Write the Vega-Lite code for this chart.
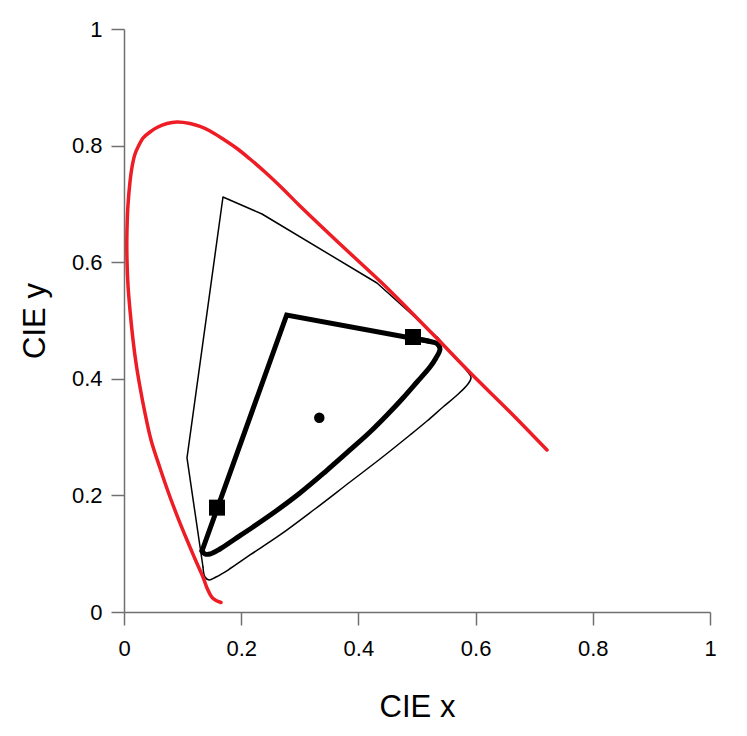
{
  "$schema": "https://vega.github.io/schema/vega-lite/v6.json",
  "width": 586,
  "height": 583,
  "autosize": {"type": "none"},
  "padding": {"left": 124, "top": 29, "right": 37, "bottom": 124},
  "config": {
    "view": {"stroke": null},
    "font": "Liberation Sans",
    "axis": {
      "grid": false,
      "domainColor": "#707070",
      "tickColor": "#707070",
      "domainWidth": 1.5,
      "tickWidth": 1.5,
      "tickSize": 13,
      "labelFont": "Liberation Sans",
      "labelFontSize": 22,
      "labelColor": "#000000",
      "labelFlush": false,
      "labelOverlap": false,
      "titleFont": "Liberation Sans",
      "titleFontSize": 31,
      "titleFontWeight": "normal",
      "titleColor": "#000000"
    }
  },
  "datasets": {
    "locus": [
      {"i": 0, "x": 0.1655, "y": 0.0163},
      {"i": 1, "x": 0.1570, "y": 0.0197},
      {"i": 2, "x": 0.1502, "y": 0.0249},
      {"i": 3, "x": 0.1416, "y": 0.0412},
      {"i": 4, "x": 0.1348, "y": 0.0600},
      {"i": 5, "x": 0.1212, "y": 0.0909},
      {"i": 6, "x": 0.1075, "y": 0.1235},
      {"i": 7, "x": 0.0922, "y": 0.1612},
      {"i": 8, "x": 0.0785, "y": 0.1973},
      {"i": 9, "x": 0.0614, "y": 0.2470},
      {"i": 10, "x": 0.0461, "y": 0.2950},
      {"i": 11, "x": 0.0358, "y": 0.3413},
      {"i": 12, "x": 0.0273, "y": 0.3859},
      {"i": 13, "x": 0.0205, "y": 0.4271},
      {"i": 14, "x": 0.0154, "y": 0.4666},
      {"i": 15, "x": 0.0102, "y": 0.5180},
      {"i": 16, "x": 0.0068, "y": 0.5609},
      {"i": 17, "x": 0.0051, "y": 0.6038},
      {"i": 18, "x": 0.0048, "y": 0.6381},
      {"i": 19, "x": 0.0056, "y": 0.6724},
      {"i": 20, "x": 0.0068, "y": 0.6981},
      {"i": 21, "x": 0.0102, "y": 0.7376},
      {"i": 22, "x": 0.0137, "y": 0.7633},
      {"i": 23, "x": 0.0188, "y": 0.7856},
      {"i": 24, "x": 0.0256, "y": 0.8010},
      {"i": 25, "x": 0.0324, "y": 0.8130},
      {"i": 26, "x": 0.0444, "y": 0.8233},
      {"i": 27, "x": 0.0563, "y": 0.8310},
      {"i": 28, "x": 0.0734, "y": 0.8379},
      {"i": 29, "x": 0.0904, "y": 0.8405},
      {"i": 30, "x": 0.1126, "y": 0.8379},
      {"i": 31, "x": 0.1297, "y": 0.8328},
      {"i": 32, "x": 0.1468, "y": 0.8250},
      {"i": 33, "x": 0.1689, "y": 0.8113},
      {"i": 34, "x": 0.1928, "y": 0.7950},
      {"i": 35, "x": 0.2150, "y": 0.7770},
      {"i": 36, "x": 0.2406, "y": 0.7547},
      {"i": 37, "x": 0.2713, "y": 0.7256},
      {"i": 38, "x": 0.3003, "y": 0.6964},
      {"i": 39, "x": 0.3686, "y": 0.6312},
      {"i": 40, "x": 0.4420, "y": 0.5626},
      {"i": 41, "x": 0.4881, "y": 0.5163},
      {"i": 42, "x": 0.5392, "y": 0.4640},
      {"i": 43, "x": 0.5904, "y": 0.4108},
      {"i": 44, "x": 0.6587, "y": 0.3431},
      {"i": 45, "x": 0.7218, "y": 0.2779}
    ],
    "thinLines": [
      {"i": 0, "x": 0.1348, "y": 0.0772},
      {"i": 1, "x": 0.1075, "y": 0.2642},
      {"i": 2, "x": 0.1689, "y": 0.7118},
      {"i": 3, "x": 0.2355, "y": 0.6827},
      {"i": 4, "x": 0.4317, "y": 0.5643},
      {"i": 5, "x": 0.5341, "y": 0.4717},
      {"i": 6, "x": 0.5648, "y": 0.4367}
    ],
    "thinCurve": [
      {"i": 0, "x": 0.5341, "y": 0.4717},
      {"i": 1, "x": 0.5648, "y": 0.4367},
      {"i": 2, "x": 0.5853, "y": 0.4134},
      {"i": 3, "x": 0.5922, "y": 0.4022},
      {"i": 4, "x": 0.5870, "y": 0.3911},
      {"i": 5, "x": 0.5666, "y": 0.3705},
      {"i": 6, "x": 0.5444, "y": 0.3516},
      {"i": 7, "x": 0.5171, "y": 0.3276},
      {"i": 8, "x": 0.4881, "y": 0.3036},
      {"i": 9, "x": 0.4369, "y": 0.2624},
      {"i": 10, "x": 0.3857, "y": 0.2230},
      {"i": 11, "x": 0.3259, "y": 0.1767},
      {"i": 12, "x": 0.2662, "y": 0.1321},
      {"i": 13, "x": 0.2150, "y": 0.0978},
      {"i": 14, "x": 0.1775, "y": 0.0720},
      {"i": 15, "x": 0.1570, "y": 0.0600},
      {"i": 16, "x": 0.1451, "y": 0.0549},
      {"i": 17, "x": 0.1382, "y": 0.0600},
      {"i": 18, "x": 0.1348, "y": 0.0772}
    ],
    "thickLines": [
      {"i": 0, "x": 0.1331, "y": 0.1046},
      {"i": 1, "x": 0.2776, "y": 0.5094},
      {"i": 2, "x": 0.5222, "y": 0.4640}
    ],
    "thickCurve": [
      {"i": 0, "x": 0.4932, "y": 0.4694},
      {"i": 1, "x": 0.5222, "y": 0.4640},
      {"i": 2, "x": 0.5341, "y": 0.4605},
      {"i": 3, "x": 0.5392, "y": 0.4511},
      {"i": 4, "x": 0.5324, "y": 0.4357},
      {"i": 5, "x": 0.5222, "y": 0.4202},
      {"i": 6, "x": 0.5000, "y": 0.3945},
      {"i": 7, "x": 0.4761, "y": 0.3671},
      {"i": 8, "x": 0.4505, "y": 0.3396},
      {"i": 9, "x": 0.4198, "y": 0.3087},
      {"i": 10, "x": 0.3857, "y": 0.2779},
      {"i": 11, "x": 0.3430, "y": 0.2401},
      {"i": 12, "x": 0.3003, "y": 0.2041},
      {"i": 13, "x": 0.2594, "y": 0.1732},
      {"i": 14, "x": 0.2201, "y": 0.1458},
      {"i": 15, "x": 0.1894, "y": 0.1252},
      {"i": 16, "x": 0.1638, "y": 0.1081},
      {"i": 17, "x": 0.1468, "y": 0.0995},
      {"i": 18, "x": 0.1382, "y": 0.0995},
      {"i": 19, "x": 0.1331, "y": 0.1046}
    ],
    "squares": [
      {"x": 0.4932, "y": 0.4717},
      {"x": 0.1587, "y": 0.1790}
    ],
    "white": [
      {"x": 0.3333, "y": 0.3333}
    ]
  },
  "encoding": {
    "x": {
      "field": "x",
      "type": "quantitative",
      "scale": {"domain": [0, 1], "nice": false},
      "axis": {"values": [0, 0.2, 0.4, 0.6, 0.8, 1], "format": "~g", "title": "CIE x", "labelPadding": 13, "titlePadding": 33}
    },
    "y": {
      "field": "y",
      "type": "quantitative",
      "scale": {"domain": [0, 1], "nice": false},
      "axis": {"values": [0, 0.2, 0.4, 0.6, 0.8, 1], "format": "~g", "title": "CIE y", "labelPadding": 9, "titlePadding": 20}
    }
  },
  "layer": [
    {
      "data": {"name": "thinLines"},
      "mark": {"type": "line", "color": "#000000", "strokeWidth": 1.5, "strokeJoin": "round", "strokeCap": "round"},
      "encoding": {"order": {"field": "i", "type": "quantitative"}}
    },
    {
      "data": {"name": "thinCurve"},
      "mark": {"type": "line", "color": "#000000", "strokeWidth": 1.5, "interpolate": "catmull-rom", "strokeCap": "round"},
      "encoding": {"order": {"field": "i", "type": "quantitative"}}
    },
    {
      "data": {"name": "thickLines"},
      "mark": {"type": "line", "color": "#000000", "strokeWidth": 5, "strokeJoin": "miter", "strokeCap": "round"},
      "encoding": {"order": {"field": "i", "type": "quantitative"}}
    },
    {
      "data": {"name": "thickCurve"},
      "mark": {"type": "line", "color": "#000000", "strokeWidth": 5, "interpolate": "catmull-rom", "strokeCap": "round"},
      "encoding": {"order": {"field": "i", "type": "quantitative"}}
    },
    {
      "data": {"name": "locus"},
      "mark": {"type": "line", "color": "#ee1c24", "strokeWidth": 3.5, "interpolate": "catmull-rom", "strokeCap": "round"},
      "encoding": {"order": {"field": "i", "type": "quantitative"}}
    },
    {
      "data": {"name": "squares"},
      "mark": {"type": "point", "shape": "square", "filled": true, "color": "#000000", "size": 256, "opacity": 1}
    },
    {
      "data": {"name": "white"},
      "mark": {"type": "point", "shape": "circle", "filled": true, "color": "#000000", "size": 110, "opacity": 1}
    }
  ]
}
